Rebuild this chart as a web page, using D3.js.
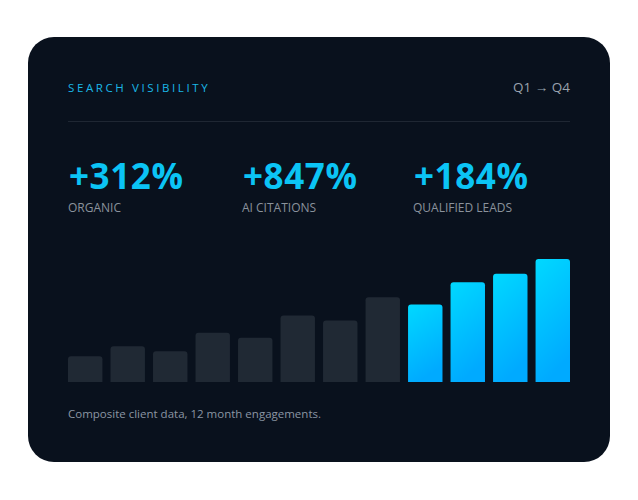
<!DOCTYPE html>
<html><head><meta charset="utf-8">
<script src="https://cdn.jsdelivr.net/npm/d3@7"></script>
<style>body{margin:0;background:#fff;font-family:"Open Sans","Noto Sans",sans-serif}</style>
</head><body>
<script>
var months = d3.range(1, 13)
var values = [21, 29, 25, 40, 36, 54, 50, 69, 63, 81, 88, 100]
var stats = ["+312%", "+847%", "+184%"]
var statLabels = ["ORGANIC", "AI CITATIONS", "QUALIFIED LEADS"]
var statX = [69, 243, 414]

var svg = d3.select("body").append("svg").attr("width", 638).attr("height", 500)

var defs = svg.append("defs")
var grad = defs.append("linearGradient").attr("id", "g").attr("x1", 0).attr("y1", 0).attr("x2", 0.3).attr("y2", 1)
grad.append("stop").attr("offset", 0).attr("stop-color", "#00d9ff")
grad.append("stop").attr("offset", 1).attr("stop-color", "#00aaff")

svg.append("rect").attr("x", 28).attr("y", 37).attr("width", 582).attr("height", 425)
    .attr("rx", 26).attr("fill", "#09111d")

svg.append("text").attr("x", 68).attr("y", 92).text("SEARCH VISIBILITY")
    .attr("fill", "#1ab8e8").style("font-size", "11.5px").style("letter-spacing", "2.6px")
svg.append("text").attr("x", 570).attr("y", 92).attr("text-anchor", "end").text("Q1 → Q4")
    .attr("fill", "#9aa3ae").style("font-size", "13.5px")
svg.append("line").attr("x1", 68).attr("x2", 570).attr("y1", 121.5).attr("y2", 121.5)
    .attr("stroke", "#1f2733")

stats.forEach(function(s, i)
    {
        svg.append("text").attr("x", statX[i]).attr("y", 189).text(s)
            .attr("fill", "#0bc4f5").style("font-size", "35px").style("font-weight", "700")
            .style("letter-spacing", "0.6px")
        svg.append("text").attr("x", statX[i] - 1).attr("y", 212).text(statLabels[i])
            .attr("fill", "#8a929c").style("font-size", "12px")
    })

var x = d3.scaleBand().domain(months).range([68, 570]).paddingInner(0.19)
var y = d3.scaleLinear().domain([0, 100]).range([382, 259])

svg.selectAll(".bar").data(values).enter().append("path")
    .attr("d", function(d, i)
        {
            var x0 = x(months[i]), w = x.bandwidth(), y0 = y(d), r = 3
            return "M" + x0 + ",382V" + (y0 + r) + "Q" + x0 + "," + y0 + " " + (x0 + r) + "," + y0 +
                "H" + (x0 + w - r) + "Q" + (x0 + w) + "," + y0 + " " + (x0 + w) + "," + (y0 + r) + "V382Z"
        })
    .attr("fill", function(d, i) { return i >= 8 ? "url(#g)" : "#202934" })

svg.append("text").attr("x", 68).attr("y", 418).text("Composite client data, 12 month engagements.")
    .attr("fill", "#8b95a3").style("font-size", "11.5px")
</script>
</body></html>
